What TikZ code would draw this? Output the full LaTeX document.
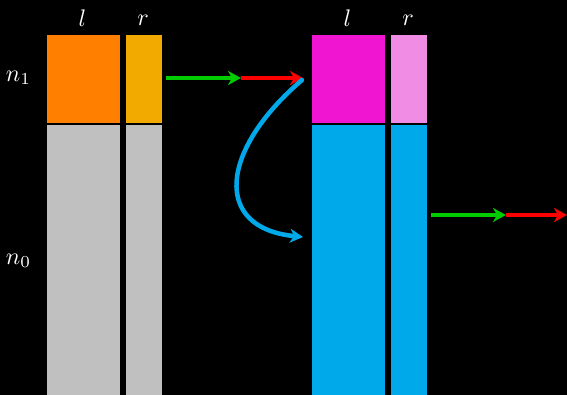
\documentclass[tikz,border=0pt]{standalone}
\usetikzlibrary{arrows.meta}
\definecolor{cOrange}{HTML}{FF8000}
\definecolor{cAmber}{HTML}{F2A900}
\definecolor{cGray}{HTML}{C0C0C0}
\definecolor{cMag}{HTML}{F015D0}
\definecolor{cPink}{HTML}{F08CE4}
\definecolor{cCyan}{HTML}{00AAEA}
\definecolor{cGreen}{HTML}{00CC00}
\definecolor{cRed}{HTML}{FF0000}
\newcommand{\biglab}[1]{\scalebox{2.4}{$#1$}}
\begin{document}
\begin{tikzpicture}[x=1pt,y=-1pt,
  box/.style={draw=black,line width=1.2pt,inner sep=0pt,outer sep=0pt,anchor=north west},
  lab/.style={text=white,inner sep=0pt},
  arr/.style={line width=4.5pt,-{Stealth[length=13pt,width=14pt,inset=4pt]}},
  ]
\fill[black] (0,0) rectangle (567,395);
\useasboundingbox (0,0) rectangle (567,395);
% left group
\node[box,fill=cOrange,minimum width=75pt,minimum height=90pt] (lltop) at (46,34) {};
\node[box,fill=cAmber,minimum width=37pt,minimum height=90pt] (lrtop) at (125.5,34) {};
\node[box,fill=cGray,minimum width=75pt,minimum height=273pt] (llbot) at (46,124) {};
\node[box,fill=cGray,minimum width=37pt,minimum height=273pt] (lrbot) at (125.5,124) {};
% right group
\node[box,fill=cMag,minimum width=75pt,minimum height=90pt] (rltop) at (311,34) {};
\node[box,fill=cPink,minimum width=38pt,minimum height=90pt] (rrtop) at (390,34) {};
\node[box,fill=cCyan,minimum width=75pt,minimum height=273pt] (rlbot) at (311,124) {};
\node[box,fill=cCyan,minimum width=38pt,minimum height=273pt] (rrbot) at (390,124) {};
% labels
\node[lab] (l1) at (82.5,18) {\biglab{l}};
\node[lab] (r1) at (143,20) {\biglab{r}};
\node[lab] (l2) at (347.5,18) {\biglab{l}};
\node[lab] (r2) at (408,20) {\biglab{r}};
\node[lab] (n1) at (18.5,78) {\biglab{n_1}};
\node[lab] (n0) at (18.5,261) {\biglab{n_0}};
% arrows
\coordinate (a1) at (166,78);
\coordinate (a2) at (241,78);
\coordinate (a3) at (303,78);
\coordinate (c0) at (302,80);
\coordinate (c1) at (303,237);
\coordinate (b1) at (431,215);
\coordinate (b2) at (506,215);
\coordinate (b3) at (567,215);
\draw[arr,cGreen] (a1) -- (a2);
\draw[arr,cRed] (a2) -- (a3);
\draw[arr,cCyan,line cap=round] (c0) .. controls (220,150) and (212,228) .. (c1);
\draw[arr,cGreen] (b1) -- (b2);
\draw[arr,cRed] (b2) -- (b3);
\end{tikzpicture}
\end{document}
